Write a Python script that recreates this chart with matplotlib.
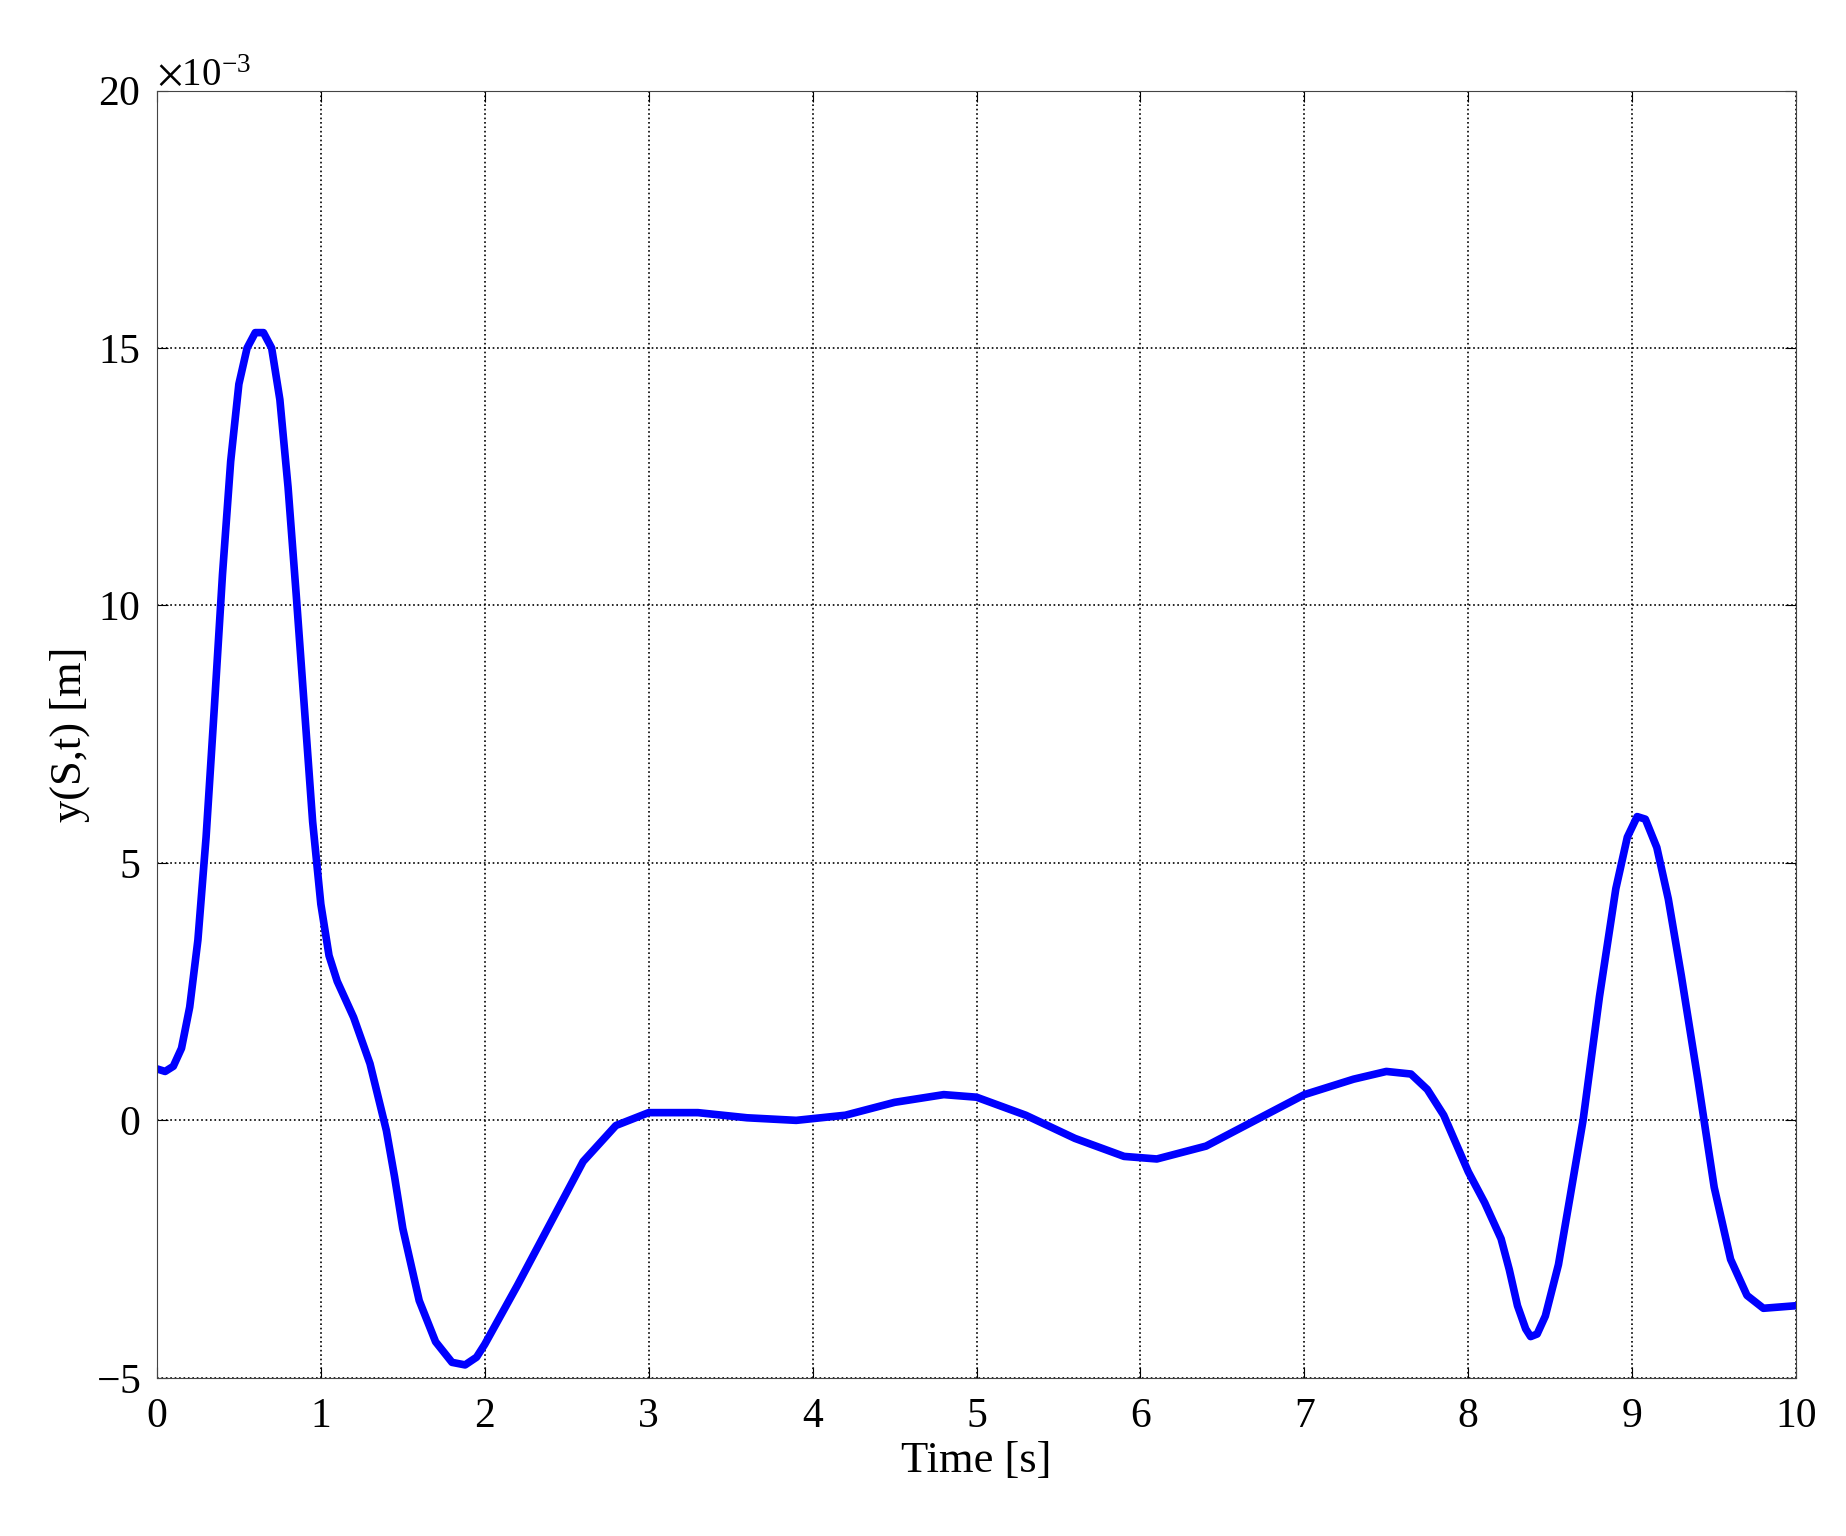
import matplotlib
matplotlib.use("Agg")
import matplotlib.pyplot as plt
from matplotlib.ticker import ScalarFormatter

t = [0, 0.05, 0.1, 0.15, 0.2, 0.25, 0.3, 0.35, 0.4, 0.45, 0.5, 0.55, 0.6, 0.65, 0.7, 0.75, 0.8, 0.85, 0.9, 0.95, 1.0, 1.05, 1.1, 1.2, 1.3, 1.4, 1.45, 1.5, 1.6, 1.7, 1.8, 1.88, 1.95, 2.0, 2.2, 2.4, 2.6, 2.8, 3.0, 3.3, 3.6, 3.9, 4.2, 4.5, 4.8, 5.0, 5.3, 5.6, 5.9, 6.1, 6.4, 6.7, 7.0, 7.3, 7.5, 7.65, 7.75, 7.85, 8.0, 8.1, 8.2, 8.25, 8.3, 8.35, 8.38, 8.42, 8.47, 8.55, 8.62, 8.7, 8.8, 8.9, 8.97, 9.03, 9.08, 9.15, 9.22, 9.3, 9.4, 9.5, 9.6, 9.7, 9.8, 10.0]
y = [1.0, 0.95, 1.05, 1.4, 2.2, 3.5, 5.5, 8.0, 10.6, 12.8, 14.3, 15.0, 15.3, 15.3, 15.0, 14.0, 12.3, 10.2, 8.0, 5.8, 4.2, 3.2, 2.7, 2.0, 1.1, -0.2, -1.1, -2.1, -3.5, -4.3, -4.7, -4.75, -4.6, -4.35, -3.2, -2.0, -0.8, -0.1, 0.15, 0.15, 0.05, 0.0, 0.1, 0.35, 0.5, 0.45, 0.1, -0.35, -0.7, -0.75, -0.5, 0.0, 0.5, 0.8, 0.95, 0.9, 0.6, 0.1, -1.0, -1.6, -2.3, -2.9, -3.6, -4.05, -4.2, -4.15, -3.8, -2.8, -1.5, 0.0, 2.4, 4.5, 5.5, 5.9, 5.85, 5.3, 4.3, 2.8, 0.8, -1.3, -2.7, -3.4, -3.65, -3.6]
y = [v * 1e-3 for v in y]

plt.rcParams['font.family'] = ['Liberation Serif', 'DejaVu Serif']
plt.rcParams['mathtext.fontset'] = 'stix'
plt.rcParams['axes.unicode_minus'] = False
fig = plt.figure(figsize=(18.46, 15.36), dpi=100)
ax = fig.add_axes([0.085, 0.103, 0.888, 0.838])
ax.plot(t, y, color='#0000ff', lw=5.5, solid_joinstyle='round')
ax.set_xlim(0, 10)
ax.set_ylim(-5e-3, 20e-3)
ax.set_xticks(range(0, 11))
ax.set_yticks([-5e-3, 0, 5e-3, 10e-3, 15e-3, 20e-3])
fmt = ScalarFormatter(useMathText=True)
fmt.set_powerlimits((-3, -3))
ax.yaxis.set_major_formatter(fmt)
ax.yaxis.get_offset_text().set_fontsize(28)
ax.grid(True, color='black', linestyle=':', lw=1.2)
ax.tick_params(direction='in', labelsize=30, length=8, top=True, right=True)
ax.tick_params(axis='x', pad=14)
ax.tick_params(axis='y', pad=12)
ax.set_xlabel('Time [s]', fontsize=32, labelpad=4)
ax.set_ylabel('y(S,t) [m]', fontsize=32)
for s in ax.spines.values():
    s.set_color('#444444')
fig.savefig('out.png')
